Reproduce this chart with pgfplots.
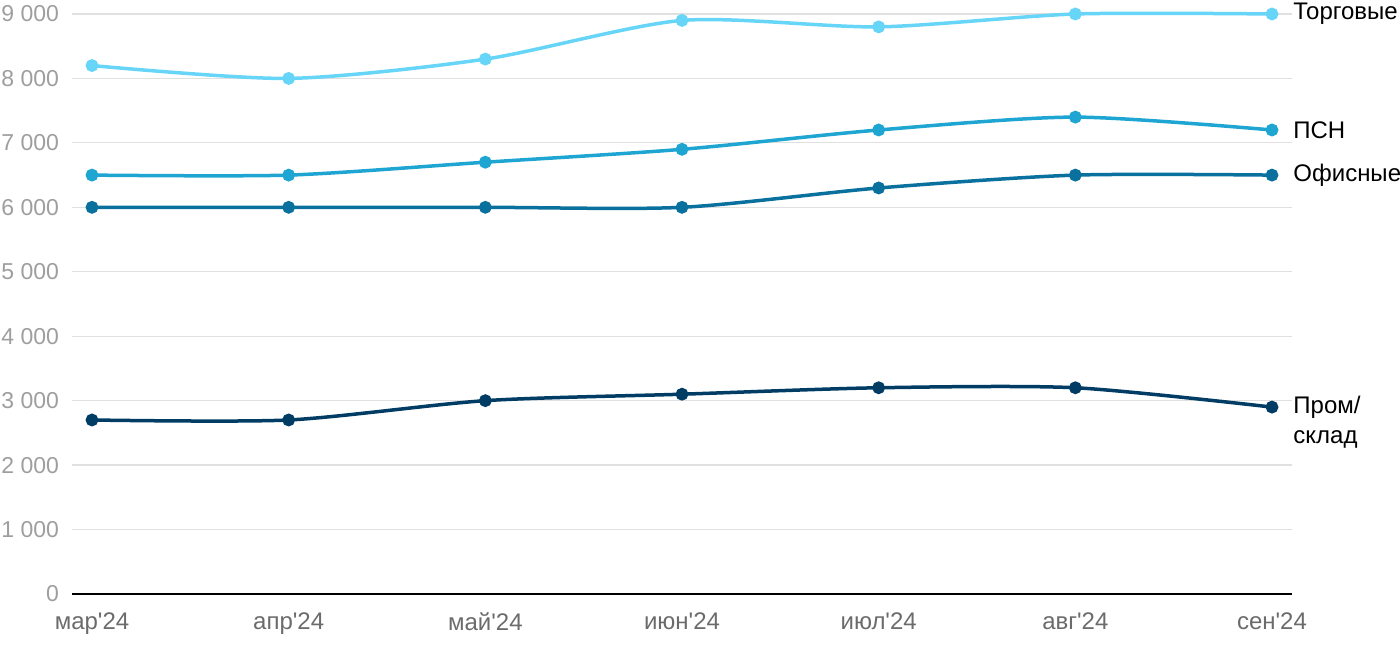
\documentclass[border=0pt]{standalone}
\usepackage{fontspec}
\setmainfont{Liberation Sans}
\usepackage{pgfplots}
\pgfplotsset{compat=1.18}
\definecolor{cTorg}{HTML}{66D5F7}
\definecolor{cPsn}{HTML}{1EA5D2}
\definecolor{cOff}{HTML}{0A709E}
\definecolor{cProm}{HTML}{003C64}
\definecolor{yGrey}{HTML}{9E9E9E}
\definecolor{xGrey}{HTML}{6B6B6B}
\definecolor{gridGrey}{HTML}{E0E0E0}
\begin{document}
\begin{tikzpicture}
\begin{axis}[
  scale only axis, width=610pt, height=290pt,
  xmin=-0.1017, xmax=6.1017, ymin=0, ymax=9000,
  axis line style={draw=none},
  xtick={0,...,6},
  xticklabels={мар\textquotesingle24,апр\textquotesingle24,май\textquotesingle24,июн\textquotesingle24,июл\textquotesingle24,авг\textquotesingle24,сен\textquotesingle24},
  ytick={1000,2000,...,9000},
  yticklabels={1 000,2 000,3 000,4 000,5 000,6 000,7 000,8 000,9 000},
  extra y ticks={0}, extra y tick labels={0},
  extra y tick style={grid style={black, line width=0.8pt}},
  ymajorgrids, grid style={gridGrey, line width=0.6pt},
  major tick length=0pt,
  yticklabel style={font=\fontsize{11.5}{13}\selectfont, text=yGrey, xshift=-3pt},
  xticklabel style={font=\fontsize{12}{14}\selectfont, text=xGrey, yshift=-6pt},
  clip=false,
  every axis plot/.append style={line width=1.75pt, smooth, tension=0.45, mark=*, mark size=2.3pt},
]
\addplot[cTorg, mark options={fill=cTorg}] coordinates {(0,8200) (1,8000) (2,8300) (3,8900) (4,8800) (5,9000) (6,9000)};
\addplot[cPsn, mark options={fill=cPsn}] coordinates {(0,6500) (1,6500) (2,6700) (3,6900) (4,7200) (5,7400) (6,7200)};
\addplot[cOff, mark options={fill=cOff}] coordinates {(0,6000) (1,6000) (2,6000) (3,6000) (4,6300) (5,6500) (6,6500)};
\addplot[cProm, mark options={fill=cProm}] coordinates {(0,2700) (1,2700) (2,3000) (3,3100) (4,3200) (5,3200) (6,2900)};
\node[anchor=west, inner sep=0, font=\fontsize{12}{15}\selectfont] at (axis cs:6,9000) [xshift=10.5pt] {Торговые};
\node[anchor=west, inner sep=0, font=\fontsize{12}{15}\selectfont] at (axis cs:6,7200) [xshift=10.5pt] {ПСН};
\node[anchor=west, inner sep=0, font=\fontsize{12}{15}\selectfont] at (axis cs:6,6500) [xshift=10.5pt] {Офисные};
\node[anchor=north west, inner sep=0, align=left, font=\fontsize{12}{15}\selectfont] at (axis cs:6,2900) [xshift=10.5pt, yshift=5.5pt] {Пром/\\склад};
\coordinate (bl) at (rel axis cs:0,0);
\coordinate (tr) at (rel axis cs:1,1);
\end{axis}
\pgfresetboundingbox
\path ([shift={(-36pt,-28pt)}]bl) rectangle ([shift={(54pt,7pt)}]tr);
\end{tikzpicture}
\end{document}
